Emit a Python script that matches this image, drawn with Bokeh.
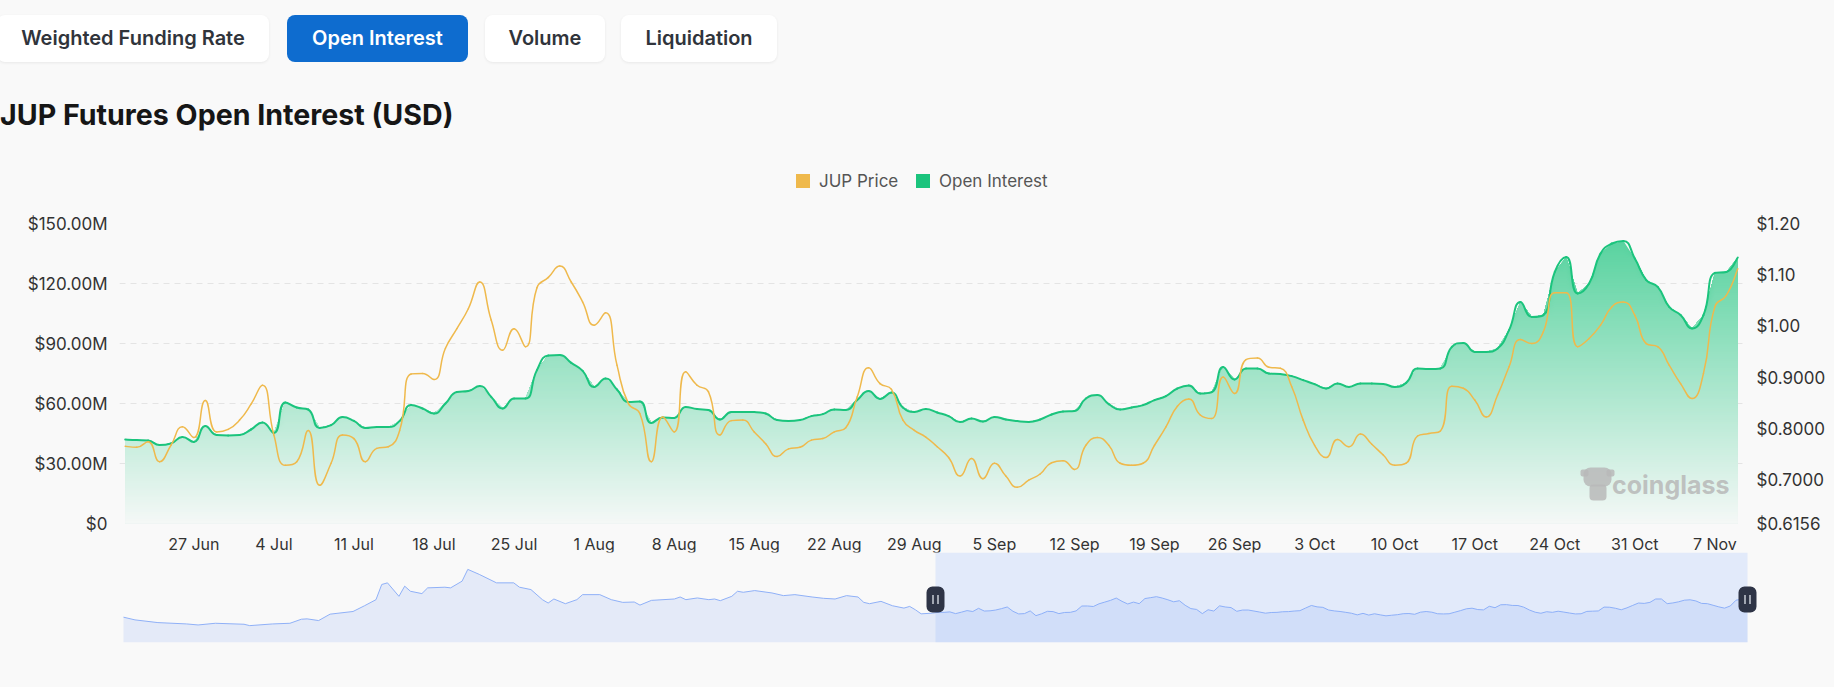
import numpy as np
import pandas as pd
from bokeh.plotting import figure
from bokeh.models import (Range1d, LinearAxis, FixedTicker, Label, BoxAnnotation, Div,
                          CustomJSTickFormatter)
from bokeh.layouts import column
from bokeh.embed import file_html
from bokeh.resources import INLINE

# ------------------------------------------------------------------ data
start_date = "2024-06-21"

open_interest_musd = [
    42.0, 41.7, 41.5, 39.2, 40.0, 43.3, 40.8, 48.7, 44.2, 44.0,
    44.2, 47.0, 50.5, 45.3, 60.5, 58.0, 57.0, 47.8, 49.2, 53.2,
    51.3, 47.8, 48.3, 48.2, 51.3, 59.2, 57.5, 55.0, 60.0, 65.8,
    66.3, 68.7, 63.3, 57.5, 62.5, 62.5, 76.7, 84.0, 84.2, 80.3,
    76.3, 68.3, 72.5, 67.0, 60.8, 61.0, 50.3, 53.0, 52.8, 58.3,
    57.2, 56.7, 52.0, 55.8, 55.8, 55.7, 55.0, 51.7, 51.2, 51.7,
    53.7, 54.7, 57.0, 56.7, 61.7, 66.2, 62.3, 65.5, 58.0, 55.8,
    57.2, 55.5, 53.7, 50.7, 52.5, 51.0, 53.3, 52.0, 51.2, 50.8,
    52.0, 54.5, 56.0, 56.3, 62.5, 64.2, 59.7, 57.0, 58.0, 59.2,
    61.7, 63.7, 67.5, 69.0, 65.0, 65.7, 78.3, 72.0, 77.5, 77.5,
    75.0, 74.7, 73.7, 71.7, 69.7, 67.5, 70.0, 68.3, 70.0, 70.0,
    69.8, 68.3, 70.3, 77.5, 77.2, 77.5, 88.3, 90.3, 85.8, 85.8,
    87.5, 96.7, 110.8, 103.3, 104.2, 125.8, 133.3, 115.0, 120.0, 135.0,
    140.0, 141.3, 132.5, 121.7, 118.3, 108.3, 104.2, 97.5, 104.2, 125.3,
    125.8, 133.0,
]

jup_price_usd = [
    0.766, 0.764, 0.775, 0.736, 0.768, 0.804, 0.783, 0.855, 0.794, 0.799,
    0.817, 0.848, 0.885, 0.788, 0.729, 0.736, 0.797, 0.690, 0.733, 0.788,
    0.781, 0.736, 0.762, 0.765, 0.797, 0.907, 0.908, 0.896, 0.957, 0.995,
    1.034, 1.086, 1.012, 0.953, 0.995, 0.960, 1.075, 1.095, 1.117, 1.086,
    1.047, 1.002, 1.026, 0.924, 0.849, 0.830, 0.736, 0.823, 0.794, 0.911,
    0.885, 0.872, 0.788, 0.816, 0.817, 0.794, 0.771, 0.746, 0.761, 0.764,
    0.778, 0.781, 0.794, 0.802, 0.862, 0.919, 0.888, 0.877, 0.817, 0.797,
    0.784, 0.765, 0.744, 0.708, 0.742, 0.703, 0.733, 0.708, 0.686, 0.700,
    0.712, 0.734, 0.738, 0.721, 0.768, 0.783, 0.768, 0.733, 0.729, 0.733,
    0.768, 0.804, 0.844, 0.858, 0.827, 0.820, 0.901, 0.869, 0.935, 0.938,
    0.920, 0.918, 0.882, 0.817, 0.768, 0.744, 0.779, 0.765, 0.790, 0.770,
    0.749, 0.729, 0.733, 0.786, 0.791, 0.796, 0.883, 0.879, 0.856, 0.823,
    0.866, 0.921, 0.974, 0.966, 0.989, 1.065, 1.065, 0.960, 0.976, 1.002,
    1.038, 1.047, 1.021, 0.966, 0.960, 0.924, 0.888, 0.859, 0.908, 1.038,
    1.060, 1.112,
]

x_tick_labels = ["27 Jun", "4 Jul", "11 Jul", "18 Jul", "25 Jul", "1 Aug", "8 Aug",
                 "15 Aug", "22 Aug", "29 Aug", "5 Sep", "12 Sep", "19 Sep", "26 Sep",
                 "3 Oct", "10 Oct", "17 Oct", "24 Oct", "31 Oct", "7 Nov"]
tick_year = "2024"

oi_ticks_musd = [0, 30, 60, 90, 120, 150]
oi_tick_labels = ["$0", "$30.00M", "$60.00M", "$90.00M", "$120.00M", "$150.00M"]

price_ticks = [0.6156, 0.7, 0.8, 0.9, 1.0, 1.1, 1.2]
price_tick_labels = ["$0.6156", "$0.7000", "$0.8000", "$0.9000", "$1.00", "$1.10", "$1.20"]

series_names = ["JUP Price", "Open Interest"]

# navigator (full history of JUP price, before the zoomed window)
history_start = "2024-01-31"
history_days = [0, 2, 6, 11, 13, 16, 21, 22, 26, 29, 31, 32, 34, 36, 40, 42, 44, 45, 46, 48,
                49, 50, 52, 53, 56, 57, 59, 60, 62, 65, 68, 69, 71, 73, 74, 75, 77, 79, 80, 83,
                85, 87, 89, 90, 92, 96, 97, 98, 100, 102, 103, 104, 106, 107, 108, 110, 113,
                115, 117, 120, 122, 124, 126, 128, 129, 130, 132, 134, 136, 137, 138, 139, 141]
history_price = [0.656, 0.595, 0.534, 0.504, 0.481, 0.519, 0.497, 0.466, 0.504, 0.519,
                 0.610, 0.618, 0.580, 0.724, 0.784, 0.913, 1.050, 1.391, 1.428, 1.125,
                 1.353, 1.239, 1.186, 1.315, 1.330, 1.315, 1.466, 1.731, 1.618, 1.428,
                 1.428, 1.330, 1.277, 1.050, 0.974, 1.065, 0.959, 1.050, 1.163, 1.163,
                 1.050, 0.989, 0.997, 0.928, 1.034, 1.065, 1.110, 1.050, 1.088, 1.050,
                 1.065, 1.027, 1.125, 1.239, 1.216, 1.254, 1.201, 1.141, 1.163, 1.110,
                 1.080, 1.065, 1.141, 1.110, 0.989, 0.959, 1.012, 0.913, 0.860, 0.898,
                 0.822, 0.731, 0.747]

header_buttons = ["Weighted Funding Rate", "Open Interest", "Volume", "Liquidation"]
active_button = "Open Interest"
chart_title = "JUP Futures Open Interest (USD)"
watermark = "coinglass"

# ------------------------------------------------------------------ style
BG = "#f9f9f9"
BG_RGB = (249, 249, 249)
GREEN = "#1bc47d"
GREEN_RGB = (27, 196, 125)
YELLOW = "#efb94c"
NAVC = "#8fb0f7"
FONT = "Inter"
TXT = "#333333"

PAGE_W = 1826
HEADER_H = 200
FRAME_L, FRAME_T = 119, 223
FW, FH = 1624, 300
RIGHT_BORDER = 76
NAV_L, NAV_T, NAV_W, NAV_H = 123, 553, 1624, 90
NAV_PAD_R = 14
NAV_SHIFT = -4   # pull navigator up over the x-axis label band


def lookup_formatter(ticks, labels):
    return CustomJSTickFormatter(args=dict(t=list(ticks), l=list(labels)), code="""
        let best = 0;
        for (let i = 0; i < t.length; i++) {
            if (Math.abs(t[i] - tick) < Math.abs(t[best] - tick)) best = i;
        }
        return l[best];
    """)


def smooth_controls(x, y, sx, sy, smooth=0.5):
    """Cubic Bezier control points through the data points (echarts-style
    constrained smoothing), computed in screen-proportional space."""
    X = np.asarray(x, float) * sx
    Y = np.asarray(y, float) * sy
    n = len(X)
    cin = np.zeros((n, 2))
    cout = np.zeros((n, 2))
    for i in range(n):
        cx, cy = X[i], Y[i]
        px, py = (X[i - 1], Y[i - 1]) if i > 0 else (cx, cy)
        nx, ny = (X[i + 1], Y[i + 1]) if i < n - 1 else (cx, cy)
        lp = np.hypot(cx - px, cy - py)
        ln = np.hypot(nx - cx, ny - cy)
        vx, vy = nx - px, ny - py
        if lp == 0 or ln == 0:
            cin[i] = (cx - vx * smooth * 0.5, cy - vy * smooth * 0.5) if lp else (cx, cy)
            cout[i] = (cx + vx * smooth * 0.5, cy + vy * smooth * 0.5) if ln else (cx, cy)
            continue
        r = ln / (ln + lp)
        ncx, ncy = cx + vx * smooth * r, cy + vy * smooth * r
        ncx = min(max(ncx, min(nx, cx)), max(nx, cx))
        ncy = min(max(ncy, min(ny, cy)), max(ny, cy))
        vx, vy = ncx - cx, ncy - cy
        pcx, pcy = cx - vx * lp / ln, cy - vy * lp / ln
        pcx = min(max(pcx, min(px, cx)), max(px, cx))
        pcy = min(max(pcy, min(py, cy)), max(py, cy))
        vx, vy = cx - pcx, cy - pcy
        ncx, ncy = cx + vx * ln / lp, cy + vy * ln / lp
        cin[i] = (pcx, pcy)
        cout[i] = (ncx, ncy)
    return dict(x0=X[:-1] / sx, y0=Y[:-1] / sy, x1=X[1:] / sx, y1=Y[1:] / sy,
                cx0=cout[:-1, 0] / sx, cy0=cout[:-1, 1] / sy,
                cx1=cin[1:, 0] / sx, cy1=cin[1:, 1] / sy)


days = np.arange(len(open_interest_musd))
oi = np.array(open_interest_musd, dtype=float)
price = np.array(jup_price_usd, dtype=float)
t0 = pd.Timestamp(start_date)
tick_days = [(pd.Timestamp(f"{l} {tick_year}") - t0).days for l in x_tick_labels]

# ------------------------------------------------------------------ header (buttons, title, legend)
btn_geom = [(-3, 272), (287, 181), (485, 120), (621, 156)]
parts = []
for lab, (lft, w) in zip(header_buttons, btn_geom):
    if lab == active_button:
        st = "background:#0e6ccf;color:#ffffff;"
    else:
        st = "background:#ffffff;color:#30343b;box-shadow:0 1px 3px rgba(0,0,0,0.07);"
    parts.append(
        f'<div style="position:absolute;left:{lft}px;top:15px;width:{w}px;height:47px;'
        f'line-height:47px;text-align:center;border-radius:8px;font-size:20px;'
        f'font-weight:600;{st}">{lab}</div>')
parts.append(
    f'<div style="position:absolute;left:0px;top:97px;white-space:nowrap;font-size:28.6px;'
    f'line-height:35px;font-weight:700;color:#161616;">{chart_title}</div>')
for name, col, sq_left in zip(series_names, [YELLOW, GREEN], [796, 916]):
    parts.append(f'<div style="position:absolute;left:{sq_left}px;top:174px;width:14px;'
                 f'height:14px;background:{col};"></div>')
    parts.append(f'<div style="position:absolute;left:{sq_left + 23}px;top:171px;'
                 f'white-space:nowrap;font-size:17px;line-height:20px;color:#555555;">'
                 f'{name}</div>')
header = Div(text=f'<div style="position:relative;width:{PAGE_W}px;height:{HEADER_H}px;'
                  f'font-family:{FONT};">' + "".join(parts) + "</div>",
             width=PAGE_W, height=HEADER_H, margin=0)

# ------------------------------------------------------------------ main chart
p = figure(frame_width=FW, frame_height=FH,
           x_range=Range1d(-0.5, len(days) - 0.5),
           y_range=Range1d(oi_ticks_musd[0], oi_ticks_musd[-1]),
           min_border_left=FRAME_L, min_border_right=RIGHT_BORDER,
           min_border_top=FRAME_T - HEADER_H, min_border_bottom=NAV_T - (FRAME_T + FH),
           output_backend="svg", toolbar_location=None,
           background_fill_color=BG, border_fill_color=BG, outline_line_color=None,
           margin=0)
p.extra_y_ranges = {"price": Range1d(price_ticks[0], price_ticks[-1])}

# gradient area under open interest: stacked opaque bands
top = oi.max()
K = 120
edges = np.linspace(0, top, K + 1)
for k in range(K - 1, -1, -1):
    frac = (edges[k] + edges[k + 1]) / 2 / top
    a = 0.02 + 0.70 * frac
    rgb = tuple(int(round(b + a * (g - b))) for g, b in zip(GREEN_RGB, BG_RGB))
    p.varea(x=days, y1=0, y2=np.minimum(oi, edges[k + 1]),
            fill_color="#%02x%02x%02x" % rgb, fill_alpha=1.0)

# smooth curves through the daily points
px_per_day = FW / len(days)
px_per_musd = FH / (oi_ticks_musd[-1] - oi_ticks_musd[0])
px_per_usd = FH / (price_ticks[-1] - price_ticks[0])
p.bezier(line_color=GREEN, line_width=2, line_cap="round",
         **smooth_controls(days, oi, px_per_day, px_per_musd))
p.bezier(y_range_name="price", line_color=YELLOW, line_width=1.5, line_cap="round",
         **smooth_controls(days, price, px_per_day, px_per_usd))

# axes
p.xaxis.ticker = FixedTicker(ticks=tick_days)
p.xaxis.formatter = lookup_formatter(tick_days, x_tick_labels)
p.xaxis.major_label_standoff = 10
p.xaxis.major_label_text_font_size = "16px"
p.yaxis.ticker = FixedTicker(ticks=oi_ticks_musd)
p.yaxis.formatter = lookup_formatter(oi_ticks_musd, oi_tick_labels)
p.yaxis.major_label_standoff = 12
p.yaxis.major_label_text_font_size = "17px"
ra = LinearAxis(y_range_name="price", ticker=FixedTicker(ticks=price_ticks),
                formatter=lookup_formatter(price_ticks, price_tick_labels),
                major_label_standoff=13, major_label_text_font_size="17px")
p.add_layout(ra, "right")
for ax in [p.xaxis[0], p.yaxis[0], ra]:
    ax.axis_line_color = None
    ax.major_tick_line_color = None
    ax.minor_tick_line_color = None
    ax.major_tick_out = 0
    ax.major_tick_in = 0
    ax.minor_tick_out = 0
    ax.major_label_text_font = FONT
    ax.major_label_text_color = TXT

p.xgrid.visible = False
p.ygrid.ticker = FixedTicker(ticks=oi_ticks_musd)
p.ygrid.grid_line_color = "#e4e4e4"
p.ygrid.grid_line_dash = "6 5"
p.ygrid.grid_line_width = 1


# watermark (decoration)
def px2day(xpage):
    return -0.5 + (xpage - FRAME_L) / FW * len(days)


def px2oi(ypage):
    return oi_ticks_musd[-1] * (FRAME_T + FH - ypage) / FH


p.add_layout(Label(x=px2day(1729), y=px2oi(484), text=watermark, text_font=FONT,
                   text_font_size="25px", text_font_style="bold", text_color="#b8b8b8",
                   text_alpha=0.85, text_align="right", text_baseline="middle"))
for (x0, x1, y0, y1, r) in [(1583, 1611, 467, 486, 7), (1580, 1588, 469, 476, 2),
                            (1606, 1614, 469, 476, 2), (1589, 1606, 484, 500, 4)]:
    p.add_layout(BoxAnnotation(left=px2day(x0), right=px2day(x1), top=px2oi(y0),
                               bottom=px2oi(y1), fill_color="#b8b8b8", fill_alpha=0.85,
                               line_color=None, border_radius=r))

# ------------------------------------------------------------------ navigator
offset = (t0 - pd.Timestamp(history_start)).days
nav_days = list(history_days) + [offset + int(d) for d in days]
nav_vals = list(history_price) + list(jup_price_usd)
vmin, vmax = min(nav_vals), max(nav_vals)
lo, hi = vmin - 0.3 * (vmax - vmin), vmax + 0.3 * (vmax - vmin)
dx = nav_days[-1] / NAV_W       # data units per px (x)
dy = (hi - lo) / NAV_H          # data units per px (y)
pad_l = NAV_L - FRAME_L          # nav frame shares the main frame's left edge

n = figure(frame_width=pad_l + NAV_W + NAV_PAD_R, frame_height=NAV_H,
           x_range=Range1d(-pad_l * dx, nav_days[-1] + NAV_PAD_R * dx),
           y_range=Range1d(lo, hi), x_axis_location=None, y_axis_location=None,
           min_border_left=FRAME_L, min_border_right=RIGHT_BORDER,
           min_border_top=0, min_border_bottom=12,
           output_backend="svg", toolbar_location=None,
           background_fill_color=BG, border_fill_color=BG, outline_line_color=None,
           margin=(NAV_SHIFT, 0, 0, 0))
n.grid.visible = False
n.varea(x=nav_days, y1=lo, y2=nav_vals, fill_color=NAVC, fill_alpha=0.2)
n.line(nav_days, nav_vals, line_color=NAVC, line_width=1)
win_left = offset - 0.5
n.add_layout(BoxAnnotation(left=win_left, right=nav_days[-1], fill_color="#87afff",
                           fill_alpha=0.2, line_color=None))

ymid = hi - 47 * dy
for cx in [win_left, nav_days[-1]]:
    n.add_layout(BoxAnnotation(left=cx - 9 * dx, right=cx + 9 * dx, top=ymid + 13 * dy,
                               bottom=ymid - 13 * dy, fill_color="#2e3446", fill_alpha=1,
                               line_color=None, border_radius=6))
    for off in (-2.5, 2.5):
        n.add_layout(BoxAnnotation(left=cx + (off - 0.75) * dx, right=cx + (off + 0.75) * dx,
                                   top=ymid + 4.5 * dy, bottom=ymid - 4.5 * dy,
                                   fill_color="#c9ccd6", fill_alpha=1, line_color=None))

page = column(header, p, n, spacing=0, margin=0)

html = file_html(page, INLINE)
html = html.replace("</head>", "<style>html,body{background:#f9f9f9;}</style></head>", 1)
open("out.html", "w").write(html)
